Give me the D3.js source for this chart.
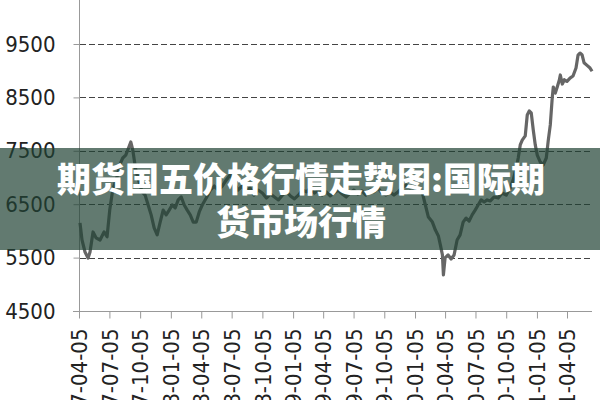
<!DOCTYPE html>
<html><head><meta charset="utf-8">
<script src="https://cdn.jsdelivr.net/npm/d3@7"></script>
<style>html,body{margin:0;padding:0;background:#fff;}svg{display:block;}</style>
</head><body>
<svg id="c" width="600" height="400"></svg>
<script>
const yTicks = [4500, 5500, 6500, 7500, 8500, 9500];
const xTickLabels = ["2007-04-05","2007-07-05","2007-10-05","2008-01-05","2008-04-05","2008-07-05","2008-10-05","2009-01-05","2009-04-05","2009-07-05","2009-10-05","2010-01-05","2010-04-05","2010-07-05","2010-10-05","2011-01-05","2011-04-05"];
const titleLines = ["期货国五价格行情走势图:国际期", "货市场行情"];
const dates = ["2007-04-08","2007-04-14","2007-04-23","2007-05-02","2007-05-08","2007-05-17","2007-05-26","2007-06-07","2007-06-19","2007-06-28",
"2007-07-06","2007-07-15","2007-07-27","2007-08-05","2007-08-14","2007-08-23","2007-08-29","2007-09-07","2007-09-13","2007-09-22",
"2007-10-02","2007-10-11","2007-10-20","2007-10-29","2007-11-07","2007-11-16","2007-11-25","2007-12-04","2007-12-13","2007-12-22",
"2007-12-31","2008-01-09","2008-01-18","2008-01-27","2008-02-05","2008-02-14","2008-02-23","2008-03-03","2008-03-12","2008-03-21",
"2008-03-30","2008-04-08","2008-04-20","2008-05-02","2008-05-14","2008-05-26","2008-06-07","2008-06-19","2008-07-01","2008-07-12",
"2008-07-24","2008-08-05","2008-08-17","2008-08-29","2008-09-10","2008-09-22","2008-10-05","2008-10-17","2008-10-29","2008-11-10",
"2008-11-22","2008-12-04","2008-12-16","2008-12-28","2009-01-09","2009-01-21","2009-02-02","2009-02-14","2009-02-26","2009-03-10",
"2009-03-22","2009-04-02","2009-04-14","2009-04-26","2009-05-08","2009-05-20","2009-06-01","2009-06-13","2009-06-25","2009-07-06",
"2009-07-18","2009-07-30","2009-08-11","2009-08-23","2009-09-04","2009-09-16","2009-09-28","2009-10-10","2009-10-22","2009-11-03",
"2009-11-15","2009-11-27","2009-12-09","2009-12-21","2010-01-02","2010-01-15","2010-01-27","2010-02-05","2010-02-14","2010-02-26",
"2010-03-07","2010-03-16","2010-03-22","2010-03-28","2010-03-31","2010-04-05","2010-04-14","2010-04-23","2010-05-02","2010-05-11",
"2010-05-20","2010-05-29","2010-06-07","2010-06-16","2010-06-25","2010-07-04","2010-07-13","2010-07-22","2010-07-31","2010-08-09",
"2010-08-18","2010-08-30","2010-09-11","2010-09-23","2010-10-05","2010-10-17","2010-10-26","2010-11-04","2010-11-10","2010-11-16",
"2010-11-22","2010-12-01","2010-12-07","2010-12-13","2010-12-19","2010-12-25","2010-12-31","2011-01-06","2011-01-15","2011-01-24",
"2011-02-02","2011-02-08","2011-02-14","2011-02-20","2011-02-23","2011-03-01","2011-03-07","2011-03-13","2011-03-16","2011-03-22",
"2011-03-28","2011-04-05","2011-04-14","2011-04-23","2011-05-02","2011-05-08","2011-05-14","2011-05-20","2011-05-26","2011-06-04",
"2011-06-13","2011-06-19"];
const prices = [6150,5830,5605,5490,5605,5980,5870,5830,5980,5890,
6390,6770,6990,7235,7365,7420,7515,7665,7515,7140,
6915,6730,6670,6485,6300,6055,5925,6165,6390,6300,
6390,6485,6430,6580,6635,6485,6390,6300,6165,6165,
6355,6485,6615,6765,6840,6765,6840,6955,7050,6900,
6765,6840,6730,6805,6670,6765,6710,6615,6690,6635,
6580,6670,6730,6655,6600,6670,6765,6730,6805,6710,
6765,6670,6730,6655,6710,6765,6690,6635,6710,6765,
6690,6750,6670,6765,6730,6805,6710,6670,6730,6670,
6730,6805,6860,6805,6840,6765,6710,6485,6260,6165,
6015,5905,5735,5550,5175,5495,5550,5475,5550,5830,
5925,6165,6240,6185,6300,6390,6485,6580,6540,6580,
6560,6635,6615,6710,6670,6805,6955,7180,7365,7610,
7700,7780,8170,8245,8210,7890,7610,7420,7290,7235,
7365,7700,7985,8510,8695,8580,8700,8825,8920,8750,
8830,8800,8860,8900,9050,9290,9330,9300,9150,9100,
9050,8990];

const parse = d3.timeParse("%Y-%m-%d");
const data = dates.map((d, i) => ({date: parse(d), value: prices[i]}));
const svg = d3.select("#c");
const font = "'Liberation Sans Narrow','DejaVu Sans Condensed',sans-serif";

const x = d3.scaleTime().domain([parse("2007-04-05"), parse("2011-04-05")]).range([79, 567]);
const y = d3.scaleLinear().domain([4500, 9500]).range([311, 44]);
const right = 592;

// gridlines
svg.append("g").selectAll("line").data(yTicks.filter(v => v > 4500)).join("line")
  .attr("x1", 80).attr("x2", right).attr("y1", d => Math.round(y(d)) + 0.5).attr("y2", d => Math.round(y(d)) + 0.5)
  .attr("stroke", "#444").attr("stroke-width", 1).attr("stroke-dasharray", "6,3");

// y axis
const yAxis = d3.axisLeft(y).tickValues(yTicks).tickSize(6).tickPadding(18).tickFormat(d3.format("d"));
const gy = svg.append("g").attr("transform", "translate(79.5,0)").call(yAxis);
gy.select(".domain").remove();
gy.selectAll(".tick line").attr("stroke", "#999");
gy.selectAll(".tick text").attr("font-family", font).attr("font-size", 22).attr("fill", "#222");
svg.append("line").attr("x1", 79.5).attr("x2", 79.5).attr("y1", 0).attr("y2", 311).attr("stroke", "#999");

// x axis
const xAxis = d3.axisBottom(x).tickValues(xTickLabels.map(parse)).tickSize(7).tickFormat(d3.timeFormat("%Y-%m-%d"));
const gx = svg.append("g").attr("transform", "translate(0,311.5)").call(xAxis);
gx.select(".domain").attr("d", `M73,0H${right}`).attr("stroke", "#999");
gx.selectAll(".tick line").attr("stroke", "#999");
gx.selectAll(".tick text").attr("font-family", font).attr("font-size", 22).attr("fill", "#222")
  .attr("transform", "rotate(-90)").attr("text-anchor", "end").attr("x", -17).attr("y", 0).attr("dy", "0.35em");

// line
const line = d3.line().x(d => x(d.date)).y(d => y(d.value));
svg.append("path").datum(data).attr("d", line).attr("fill", "none")
  .attr("stroke", "#666").attr("stroke-width", 3.2).attr("stroke-linejoin", "round");

// banner
svg.append("rect").attr("x", 0).attr("y", 148).attr("width", 600).attr("height", 102)
  .attr("fill", "rgb(31,65,51)").attr("fill-opacity", 0.7);
svg.append("g").selectAll("text").data(titleLines).join("text")
  .attr("x", 301).attr("y", (d, i) => 192 + i * 43).attr("text-anchor", "middle")
  .attr("font-family", "'Noto Sans CJK SC',sans-serif").attr("font-weight", 900).attr("font-size", 34)
  .attr("fill", "#fff").text(d => d);
</script>
</body></html>
